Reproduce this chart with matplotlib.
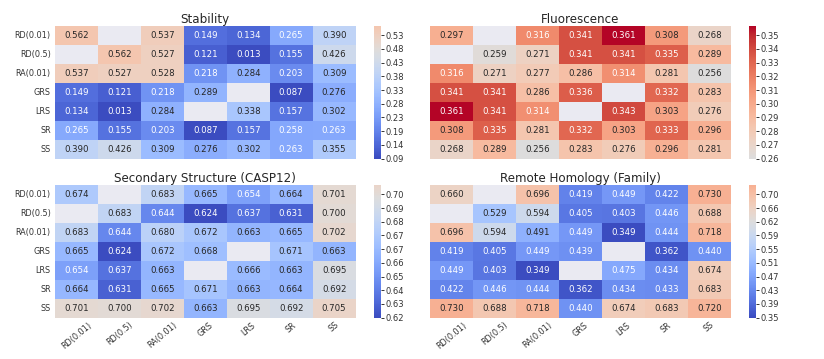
import numpy as np
import matplotlib
matplotlib.use("Agg")
import matplotlib.pyplot as plt
import seaborn as sns

labels = ["RD(0.01)", "RD(0.5)", "RA(0.01)", "GRS", "LRS", "SR", "SS"]
nan = np.nan

stability = [
    [0.562, nan, 0.537, 0.149, 0.134, 0.265, 0.390],
    [nan, 0.562, 0.527, 0.121, 0.013, 0.155, 0.426],
    [0.537, 0.527, 0.528, 0.218, 0.284, 0.203, 0.309],
    [0.149, 0.121, 0.218, 0.289, nan, 0.087, 0.276],
    [0.134, 0.013, 0.284, nan, 0.338, 0.157, 0.302],
    [0.265, 0.155, 0.203, 0.087, 0.157, 0.258, 0.263],
    [0.390, 0.426, 0.309, 0.276, 0.302, 0.263, 0.355],
]
fluorescence = [
    [0.297, nan, 0.316, 0.341, 0.361, 0.308, 0.268],
    [nan, 0.259, 0.271, 0.341, 0.341, 0.335, 0.289],
    [0.316, 0.271, 0.277, 0.286, 0.314, 0.281, 0.256],
    [0.341, 0.341, 0.286, 0.336, nan, 0.332, 0.283],
    [0.361, 0.341, 0.314, nan, 0.343, 0.303, 0.276],
    [0.308, 0.335, 0.281, 0.332, 0.303, 0.333, 0.296],
    [0.268, 0.289, 0.256, 0.283, 0.276, 0.296, 0.281],
]
secondary = [
    [0.674, nan, 0.683, 0.665, 0.654, 0.664, 0.701],
    [nan, 0.683, 0.644, 0.624, 0.637, 0.631, 0.700],
    [0.683, 0.644, 0.680, 0.672, 0.663, 0.665, 0.702],
    [0.665, 0.624, 0.672, 0.668, nan, 0.671, 0.663],
    [0.654, 0.637, 0.663, nan, 0.666, 0.663, 0.695],
    [0.664, 0.631, 0.665, 0.671, 0.663, 0.664, 0.692],
    [0.701, 0.700, 0.702, 0.663, 0.695, 0.692, 0.705],
]
remote = [
    [0.660, nan, 0.696, 0.419, 0.449, 0.422, 0.730],
    [nan, 0.529, 0.594, 0.405, 0.403, 0.446, 0.688],
    [0.696, 0.594, 0.491, 0.449, 0.349, 0.444, 0.718],
    [0.419, 0.405, 0.449, 0.439, nan, 0.362, 0.440],
    [0.449, 0.403, 0.349, nan, 0.475, 0.434, 0.674],
    [0.422, 0.446, 0.444, 0.362, 0.434, 0.433, 0.683],
    [0.730, 0.688, 0.718, 0.440, 0.674, 0.683, 0.720],
]

titles = ["Stability", "Fluorescence", "Secondary Structure (CASP12)", "Remote Homology (Family)"]
vmins = [0.087, 0.256, 0.624, 0.349]
vmaxs = [0.562, 0.361, 0.705, 0.730]
centers = [0.47, 0.256, 0.697, 0.625]

sns.set_theme(style="darkgrid")
plt.rcParams["font.family"] = ["DejaVu Sans"]

W, H = 824, 359
fig = plt.figure(figsize=(W / 100, H / 100), dpi=100)

def px_ax(x0, y0, x1, y1):
    return fig.add_axes([x0 / W, 1 - y1 / H, (x1 - x0) / W, (y1 - y0) / H])

boxes = [
    ((55, 26, 355.6, 158.5), (374, 26, 381, 158.5)),
    ((430, 26, 730.7, 158.5), (749, 26, 756, 158.5)),
    ((55, 185, 355.6, 317.7), (374, 185, 381, 317.7)),
    ((430, 185, 730.7, 317.7), (749, 185, 756, 317.7)),
]

datas = [stability, fluorescence, secondary, remote]
for i, (data, title) in enumerate(zip(datas, titles)):
    (a, c) = boxes[i]
    ax = px_ax(*a)
    cax = px_ax(*c)
    arr = np.array(data, dtype=float)
    sns.heatmap(arr, ax=ax, cbar_ax=cax, cmap="coolwarm", vmin=vmins[i], vmax=vmaxs[i],
                center=centers[i], annot=True, fmt=".3f", annot_kws={"size": 6.2},
                xticklabels=labels, yticklabels=labels)
    ax.grid(False)
    cax.grid(False)
    ax.set_title(title, fontsize=8.6, pad=2, color="#262626")
    ax.tick_params(axis="y", labelsize=5.9, rotation=0, length=0, pad=3, labelcolor="#333333")
    if i >= 2:
        ax.tick_params(axis="x", labelsize=5.9, rotation=40, length=0, pad=2, labelcolor="#333333")
    else:
        ax.set_xticklabels([])
        ax.tick_params(axis="x", length=0)
    if i % 2 == 1:
        ax.set_yticklabels([])
        ax.tick_params(axis="y", length=0)
    lo = vmins[i]
    hi = vmins[i] + 0.930 * (vmaxs[i] - vmins[i])
    ticks = np.linspace(lo, hi, 10)
    cax.set_yticks(ticks)
    cax.set_yticklabels(["%.2f" % t for t in ticks])
    cax.tick_params(axis="y", labelsize=6, length=2.5, width=0.7, pad=1, color="#333333", labelcolor="#333333")

fig.savefig("out.png", dpi=100)
